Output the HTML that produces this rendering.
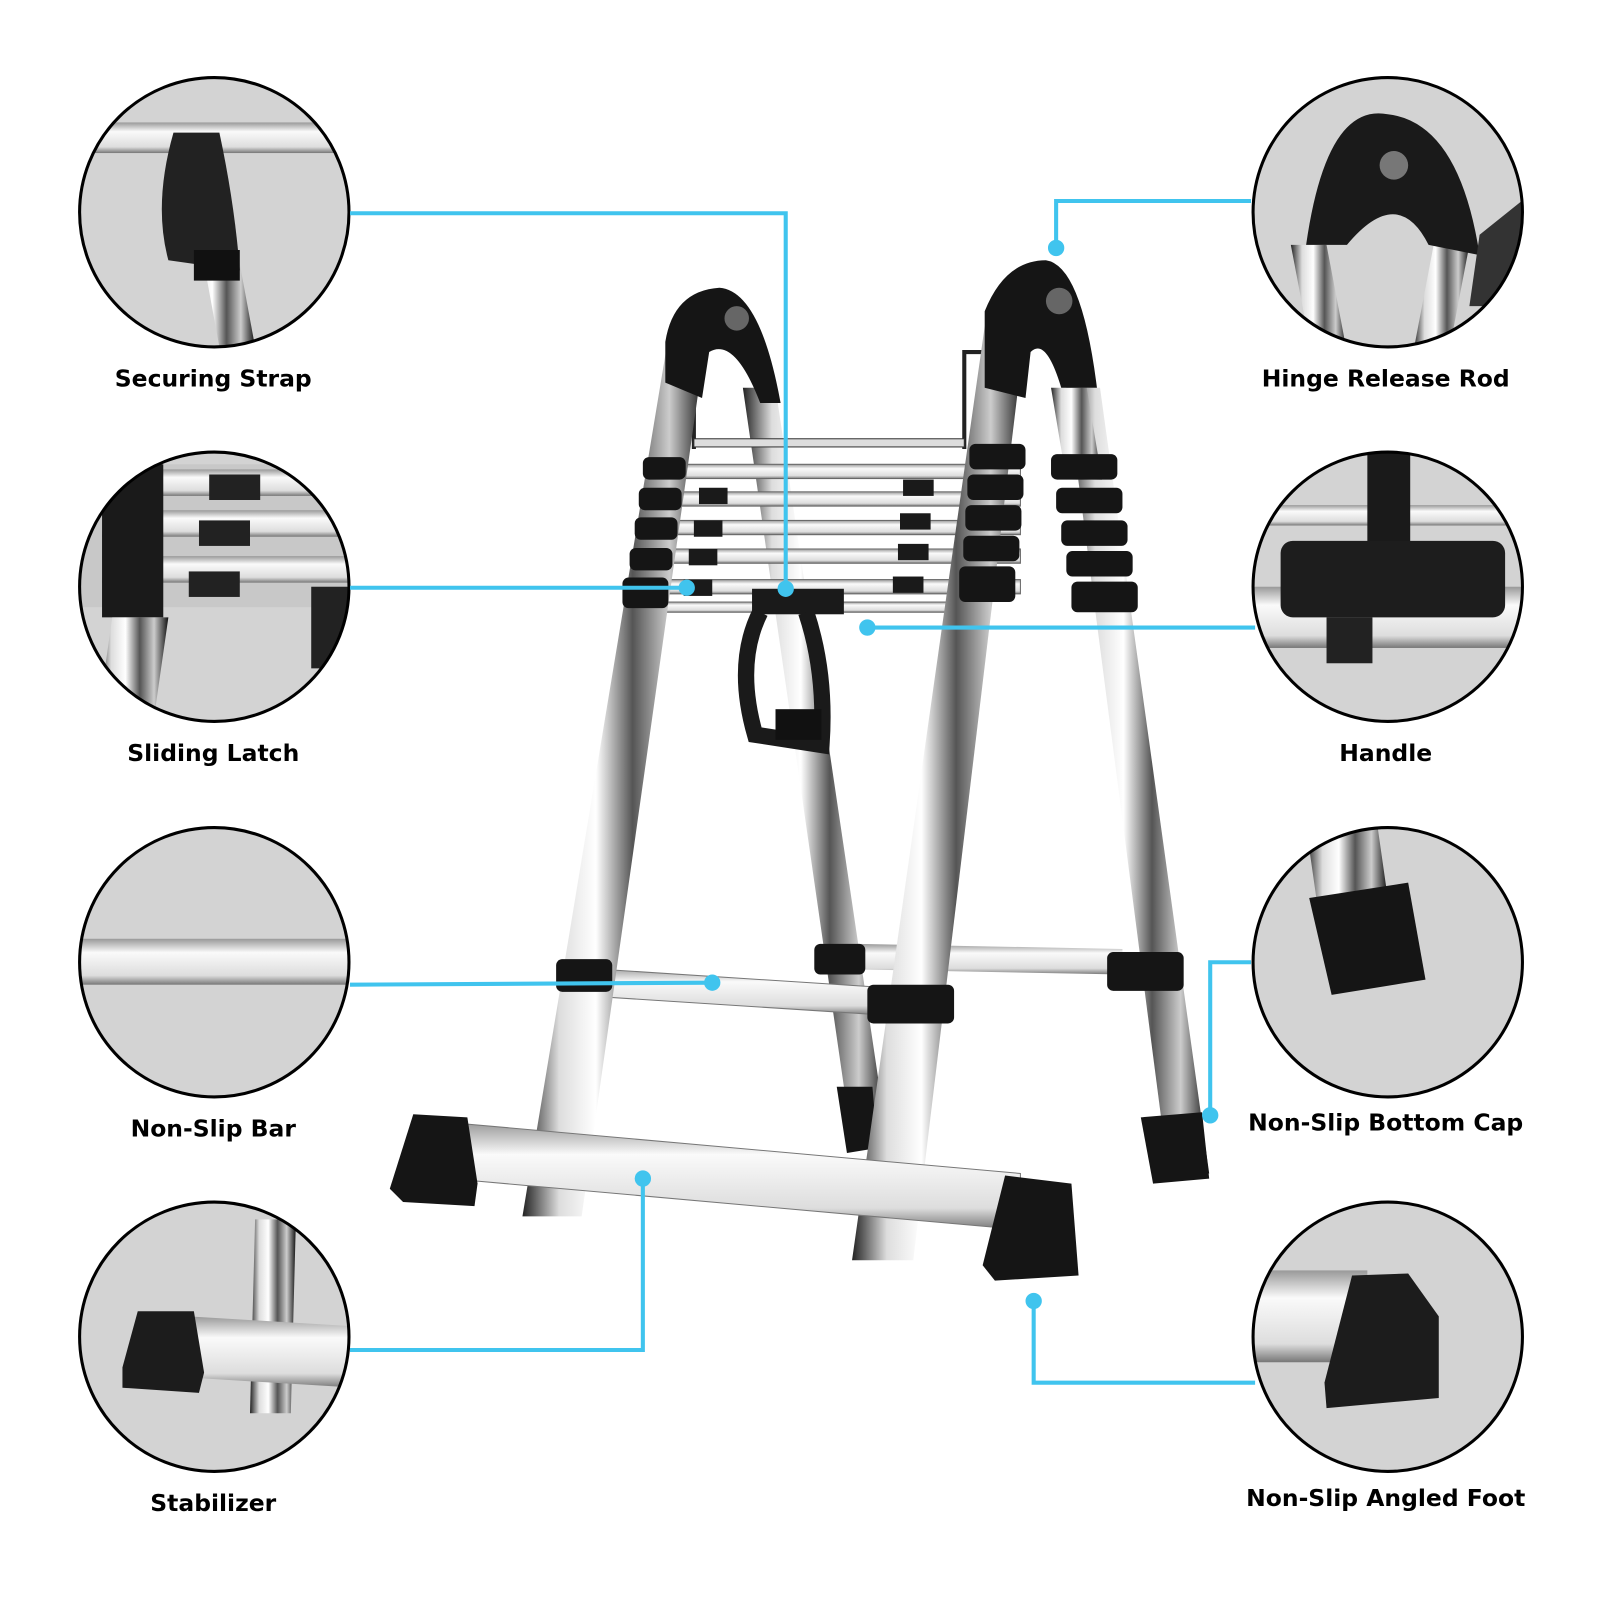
<!DOCTYPE html>
<html><head><meta charset="utf-8"><style>
html,body{margin:0;padding:0;background:#fff;}
svg{display:block}
text{font-family:"DejaVu Sans","Liberation Sans",sans-serif;font-weight:bold;font-size:23px;fill:#000}
</style></head><body>
<svg width="1600" height="1600" viewBox="0 0 1568 1568" xmlns="http://www.w3.org/2000/svg">
<defs>
<linearGradient id="m" x1="0" x2="1" y1="0" y2="0">
<stop offset="0" stop-color="#222"/><stop offset="0.2" stop-color="#ddd"/><stop offset="0.4" stop-color="#fff"/><stop offset="0.6" stop-color="#555"/><stop offset="0.8" stop-color="#ccc"/><stop offset="1" stop-color="#111"/></linearGradient>
<linearGradient id="r" x1="0" x2="0" y1="0" y2="1">
<stop offset="0" stop-color="#999"/><stop offset="0.3" stop-color="#fafafa"/><stop offset="0.8" stop-color="#ddd"/><stop offset="1" stop-color="#777"/></linearGradient>
<clipPath id="c1"><circle cx="210" cy="208" r="132"/></clipPath>
<clipPath id="c2"><circle cx="210" cy="575" r="132"/></clipPath>
<clipPath id="c3"><circle cx="210" cy="943" r="132"/></clipPath>
<clipPath id="c4"><circle cx="210" cy="1310" r="132"/></clipPath>
<clipPath id="c5"><circle cx="1360" cy="208" r="132"/></clipPath>
<clipPath id="c6"><circle cx="1360" cy="575" r="132"/></clipPath>
<clipPath id="c7"><circle cx="1360" cy="943" r="132"/></clipPath>
<clipPath id="c8"><circle cx="1360" cy="1310" r="132"/></clipPath>
</defs>

<g fill="#d3d3d3">
<circle cx="210" cy="208" r="132"/><circle cx="210" cy="575" r="132"/><circle cx="210" cy="943" r="132"/><circle cx="210" cy="1310" r="132"/>
<circle cx="1360" cy="208" r="132"/><circle cx="1360" cy="575" r="132"/><circle cx="1360" cy="943" r="132"/><circle cx="1360" cy="1310" r="132"/>
</g>
<g clip-path="url(#c1)">
<rect x="70" y="120" width="290" height="30" fill="url(#r)"/>
<polygon points="180,150 215,150 250,340 215,340" fill="url(#m)"/>
<path d="M170 130 Q150 200 165 255 L235 265 Q230 200 215 130 Z" fill="#222"/>
<rect x="190" y="245" width="45" height="30" fill="#111"/>
</g>
<g clip-path="url(#c2)">
<rect x="70" y="455" width="290" height="140" fill="#c8c8c8"/>
<rect x="100" y="460" width="260" height="26" fill="url(#r)"/><rect x="100" y="500" width="260" height="26" fill="url(#r)"/><rect x="100" y="545" width="260" height="26" fill="url(#r)"/>
<rect x="100" y="455" width="60" height="150" fill="#1a1a1a"/>
<rect x="205" y="465" width="50" height="25" fill="#222"/><rect x="195" y="510" width="50" height="25" fill="#222"/><rect x="185" y="560" width="50" height="25" fill="#222"/>
<polygon points="110,605 165,605 150,710 95,710" fill="url(#m)"/>
<rect x="305" y="575" width="40" height="80" fill="#222"/>
</g>
<g clip-path="url(#c3)">
<rect x="70" y="920" width="290" height="45" fill="url(#r)"/>
</g>
<g clip-path="url(#c4)">
<polygon points="250,1195 290,1195 285,1385 245,1385" fill="url(#m)"/>
<polygon points="185,1290 350,1300 350,1360 185,1350" fill="url(#r)"/>
<path d="M135 1285 L190 1285 L200 1345 L195 1365 L120 1360 L120 1340 Z" fill="#1c1c1c"/>
</g>
<g clip-path="url(#c5)">
<polygon points="1265,240 1300,240 1320,345 1285,345" fill="url(#m)"/>
<polygon points="1405,240 1440,240 1420,345 1385,345" fill="url(#m)"/>
<path d="M1280 240 Q1300 100 1360 112 Q1430 120 1450 250 L1400 240 Q1370 180 1320 240 Z" fill="#1a1a1a"/>
<circle cx="1366" cy="162" r="14" fill="#777"/>
<polygon points="1450,230 1500,190 1500,300 1440,300" fill="#333"/>
</g>
<g clip-path="url(#c6)">
<rect x="1220" y="495" width="290" height="20" fill="url(#r)"/>
<rect x="1220" y="575" width="290" height="60" fill="url(#r)"/>
<rect x="1340" y="440" width="42" height="110" fill="#1a1a1a"/>
<rect x="1255" y="530" width="220" height="75" rx="12" fill="#1d1d1d"/>
<rect x="1300" y="605" width="45" height="45" fill="#222"/>
</g>
<g clip-path="url(#c7)">
<polygon points="1280,810 1350,810 1360,880 1290,880" fill="url(#m)"/>
<polygon points="1283,880 1380,865 1397,960 1305,975" fill="#151515"/>
</g>
<g clip-path="url(#c8)">
<rect x="1220" y="1245" width="120" height="90" fill="url(#r)"/>
<path d="M1325 1250 L1380 1248 L1410 1290 L1410 1370 L1300 1380 L1298 1355 Z" fill="#1c1c1c"/>
</g>
<g fill="none" stroke="#000" stroke-width="3">
<circle cx="210" cy="208" r="132"/><circle cx="210" cy="575" r="132"/><circle cx="210" cy="943" r="132"/><circle cx="210" cy="1310" r="132"/>
<circle cx="1360" cy="208" r="132"/><circle cx="1360" cy="575" r="132"/><circle cx="1360" cy="943" r="132"/><circle cx="1360" cy="1310" r="132"/>
</g>

<polygon points="728,380 760,380 870,1120 835,1120" fill="url(#m)"/>
<polygon points="1045,380 1078,380 1185,1150 1145,1150" fill="url(#m)"/>
<polygon points="820,1065 855,1065 860,1125 830,1130" fill="#151515"/>
<polygon points="1118,1095 1178,1090 1185,1155 1130,1160" fill="#151515"/>
<path d="M680 440 L680 395 M945 440 L945 345 L968 345" stroke="#222" stroke-width="4" fill="none"/>
<rect x="680" y="430" width="265" height="8" fill="#ddd" stroke="#333"/>
<polygon points="840,925 1100,930 1100,955 840,950" fill="url(#r)"/>
<g fill="url(#r)" stroke="#666" stroke-width="1">
<rect x="640" y="455" width="360" height="14"/><rect x="640" y="482" width="360" height="14"/><rect x="640" y="510" width="360" height="14"/><rect x="640" y="538" width="360" height="14"/><rect x="640" y="568" width="360" height="14"/><rect x="640" y="590" width="330" height="10"/>
</g>
<g fill="#1a1a1a">
<rect x="685" y="478" width="28" height="16"/><rect x="885" y="470" width="30" height="16"/>
<rect x="680" y="510" width="28" height="16"/><rect x="882" y="503" width="30" height="16"/>
<rect x="675" y="538" width="28" height="16"/><rect x="880" y="533" width="30" height="16"/>
<rect x="670" y="568" width="28" height="16"/><rect x="875" y="565" width="30" height="16"/>
</g>
<polygon points="560,948 870,968 870,995 560,975" fill="url(#r)" stroke="#777"/>
<polygon points="655,330 692,330 570,1192 512,1192" fill="url(#m)"/>
<polygon points="965,320 1005,320 895,1235 835,1235" fill="url(#m)"/>
<polygon points="1030,380 1065,380 1080,470 1045,470" fill="url(#m)"/>
<g fill="#151515">
<rect x="630" y="448" width="42" height="22" rx="6"/><rect x="626" y="478" width="42" height="22" rx="6"/><rect x="622" y="507" width="42" height="22" rx="6"/><rect x="617" y="537" width="42" height="22" rx="6"/><rect x="610" y="566" width="45" height="30" rx="6"/>
<rect x="950" y="435" width="55" height="25" rx="6"/><rect x="948" y="465" width="55" height="25" rx="6"/><rect x="946" y="495" width="55" height="25" rx="6"/><rect x="944" y="525" width="55" height="25" rx="6"/><rect x="940" y="555" width="55" height="35" rx="6"/>
<rect x="1030" y="445" width="65" height="25" rx="6"/><rect x="1035" y="478" width="65" height="25" rx="6"/><rect x="1040" y="510" width="65" height="25" rx="6"/><rect x="1045" y="540" width="65" height="25" rx="6"/><rect x="1050" y="570" width="65" height="30" rx="6"/>
<rect x="545" y="940" width="55" height="32" rx="6"/><rect x="850" y="965" width="85" height="38" rx="6"/><rect x="798" y="925" width="50" height="30" rx="6"/><rect x="1085" y="933" width="75" height="38" rx="6"/>
</g>
<path d="M652 335 Q660 285 705 282 Q745 285 765 395 L745 395 Q720 330 695 345 L688 390 L652 375 Z" fill="#151515"/>
<circle cx="722" cy="312" r="12" fill="#666"/>
<path d="M965 305 Q985 255 1025 255 Q1060 260 1075 380 L1040 380 Q1025 330 1010 345 L1005 390 L965 380 Z" fill="#151515"/>
<circle cx="1038" cy="295" r="13" fill="#666"/>
<rect x="737" y="577" width="90" height="25" fill="#1a1a1a"/>
<path d="M745 600 Q720 650 740 720 L805 730 Q810 660 790 600" fill="none" stroke="#1a1a1a" stroke-width="16"/>
<rect x="760" y="695" width="45" height="30" fill="#111"/>
<polygon points="440,1100 1000,1150 1000,1205 440,1155" fill="url(#r)" stroke="#777"/>
<path d="M405 1092 L458 1095 L468 1160 L465 1182 L395 1178 L382 1165 Z" fill="#151515"/>
<path d="M985 1152 L1050 1160 L1057 1250 L975 1255 L963 1240 Z" fill="#151515"/>
<g stroke="#40c4ee" stroke-width="4" fill="none">
<polyline points="343,209 770,209 770,577"/>
<polyline points="343,576 673,576"/>
<polyline points="343,965 698,963"/>
<polyline points="343,1323 630,1323 630,1155"/>
<polyline points="1226,197 1035,197 1035,243"/>
<polyline points="1230,615 850,615"/>
<polyline points="1226,943 1186,943 1186,1093"/>
<polyline points="1230,1355 1013,1355 1013,1275"/>
</g>
<g fill="#40c4ee">
<circle cx="770" cy="577" r="8"/><circle cx="673" cy="576" r="8"/><circle cx="698" cy="963" r="8"/><circle cx="630" cy="1155" r="8"/>
<circle cx="1035" cy="243" r="8"/><circle cx="850" cy="615" r="8"/><circle cx="1186" cy="1093" r="8"/><circle cx="1013" cy="1275" r="8"/>
</g>
<g text-anchor="middle">
<text x="209" y="379">Securing Strap</text>
<text x="209" y="746">Sliding Latch</text>
<text x="209" y="1114">Non-Slip Bar</text>
<text x="209" y="1481">Stabilizer</text>
<text x="1358" y="379">Hinge Release Rod</text>
<text x="1358" y="746">Handle</text>
<text x="1358" y="1108">Non-Slip Bottom Cap</text>
<text x="1358" y="1476">Non-Slip Angled Foot</text>
</g>
</svg>
</body></html>
